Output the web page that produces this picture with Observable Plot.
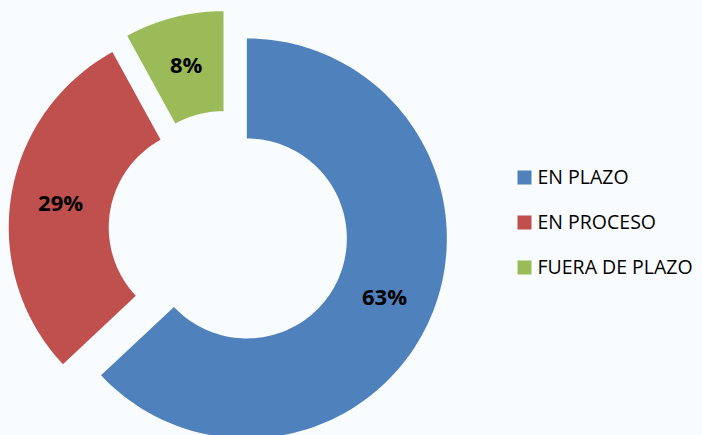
<!DOCTYPE html>
<html>
<head>
<meta charset="utf-8">
<script src="https://cdn.jsdelivr.net/npm/d3@7"></script>
<script src="https://cdn.jsdelivr.net/npm/@observablehq/plot@0.6"></script>
<style>
  html, body { margin: 0; padding: 0; background: #f8fcfe; overflow: hidden; }
  #chart svg { display: block; }
</style>
</head>
<body>
<div id="chart"></div>
<script>
// ---- data ----
const categories = ["EN PLAZO", "EN PROCESO", "FUERA DE PLAZO"];
const values = [63, 29, 8];
const labels = ["63%", "29%", "8%"];
const colors = ["#4f81bd", "#c0504d", "#9bbb59"];

// ---- layout ----
const W = 702, H = 435;
const cx = 228, cy = 230;      // donut centre
const rOut = 200, rIn = 100;   // radii
const explode = 20;            // every slice pulled out
const steps = 120;

const arcs = d3.pie().sort(null).value(d => d)(values);

function pt(c, a, r) {
  return {x: c.x + r * Math.sin(a), y: c.y - r * Math.cos(a)};
}

const sliceData = arcs.map((a, i) => {
  const mid = (a.startAngle + a.endAngle) / 2;
  const c = pt({x: cx, y: cy}, mid, explode);
  const pts = [];
  for (let k = 0; k <= steps; k++) {
    const t = a.startAngle + (a.endAngle - a.startAngle) * k / steps;
    pts.push({cat: categories[i], ...pt(c, t, rOut)});
  }
  for (let k = steps; k >= 0; k--) {
    const t = a.startAngle + (a.endAngle - a.startAngle) * k / steps;
    pts.push({cat: categories[i], ...pt(c, t, rIn)});
  }
  const lab = {label: labels[i], ...pt(c, mid, (rOut + rIn) / 2)};
  return {pts, lab};
});

const legendItems = categories.map((c, i) => ({cat: c, x: 524, y: 177 + i * 45}));

const plot = Plot.plot({
  width: W,
  height: H,
  margin: 0,
  style: {background: "transparent", overflow: "hidden"},
  x: {domain: [0, W], range: [0, W], axis: null},
  y: {domain: [0, H], range: [0, H], axis: null},
  color: {domain: categories, range: colors},
  marks: [
    ...sliceData.map((s, i) => Plot.line(s.pts, {
      x: "x", y: "y", fill: colors[i], stroke: "none", curve: "linear-closed"
    })),
    Plot.text(sliceData.map(s => s.lab), {
      x: "x", y: "y", text: "label",
      fontSize: 22, fontWeight: "bold", fontFamily: "Open Sans", fill: "#000"
    }),
    Plot.dot(legendItems, {
      x: "x", y: "y", fill: "cat", symbol: "square", r: 7.9, stroke: "none"
    }),
    Plot.text(legendItems, {
      x: d => d.x + 13, y: "y", text: "cat", textAnchor: "start",
      fontSize: 19.5, fontFamily: "Open Sans", fill: "#000"
    })
  ]
});

document.getElementById("chart").appendChild(plot);
</script>
</body>
</html>
